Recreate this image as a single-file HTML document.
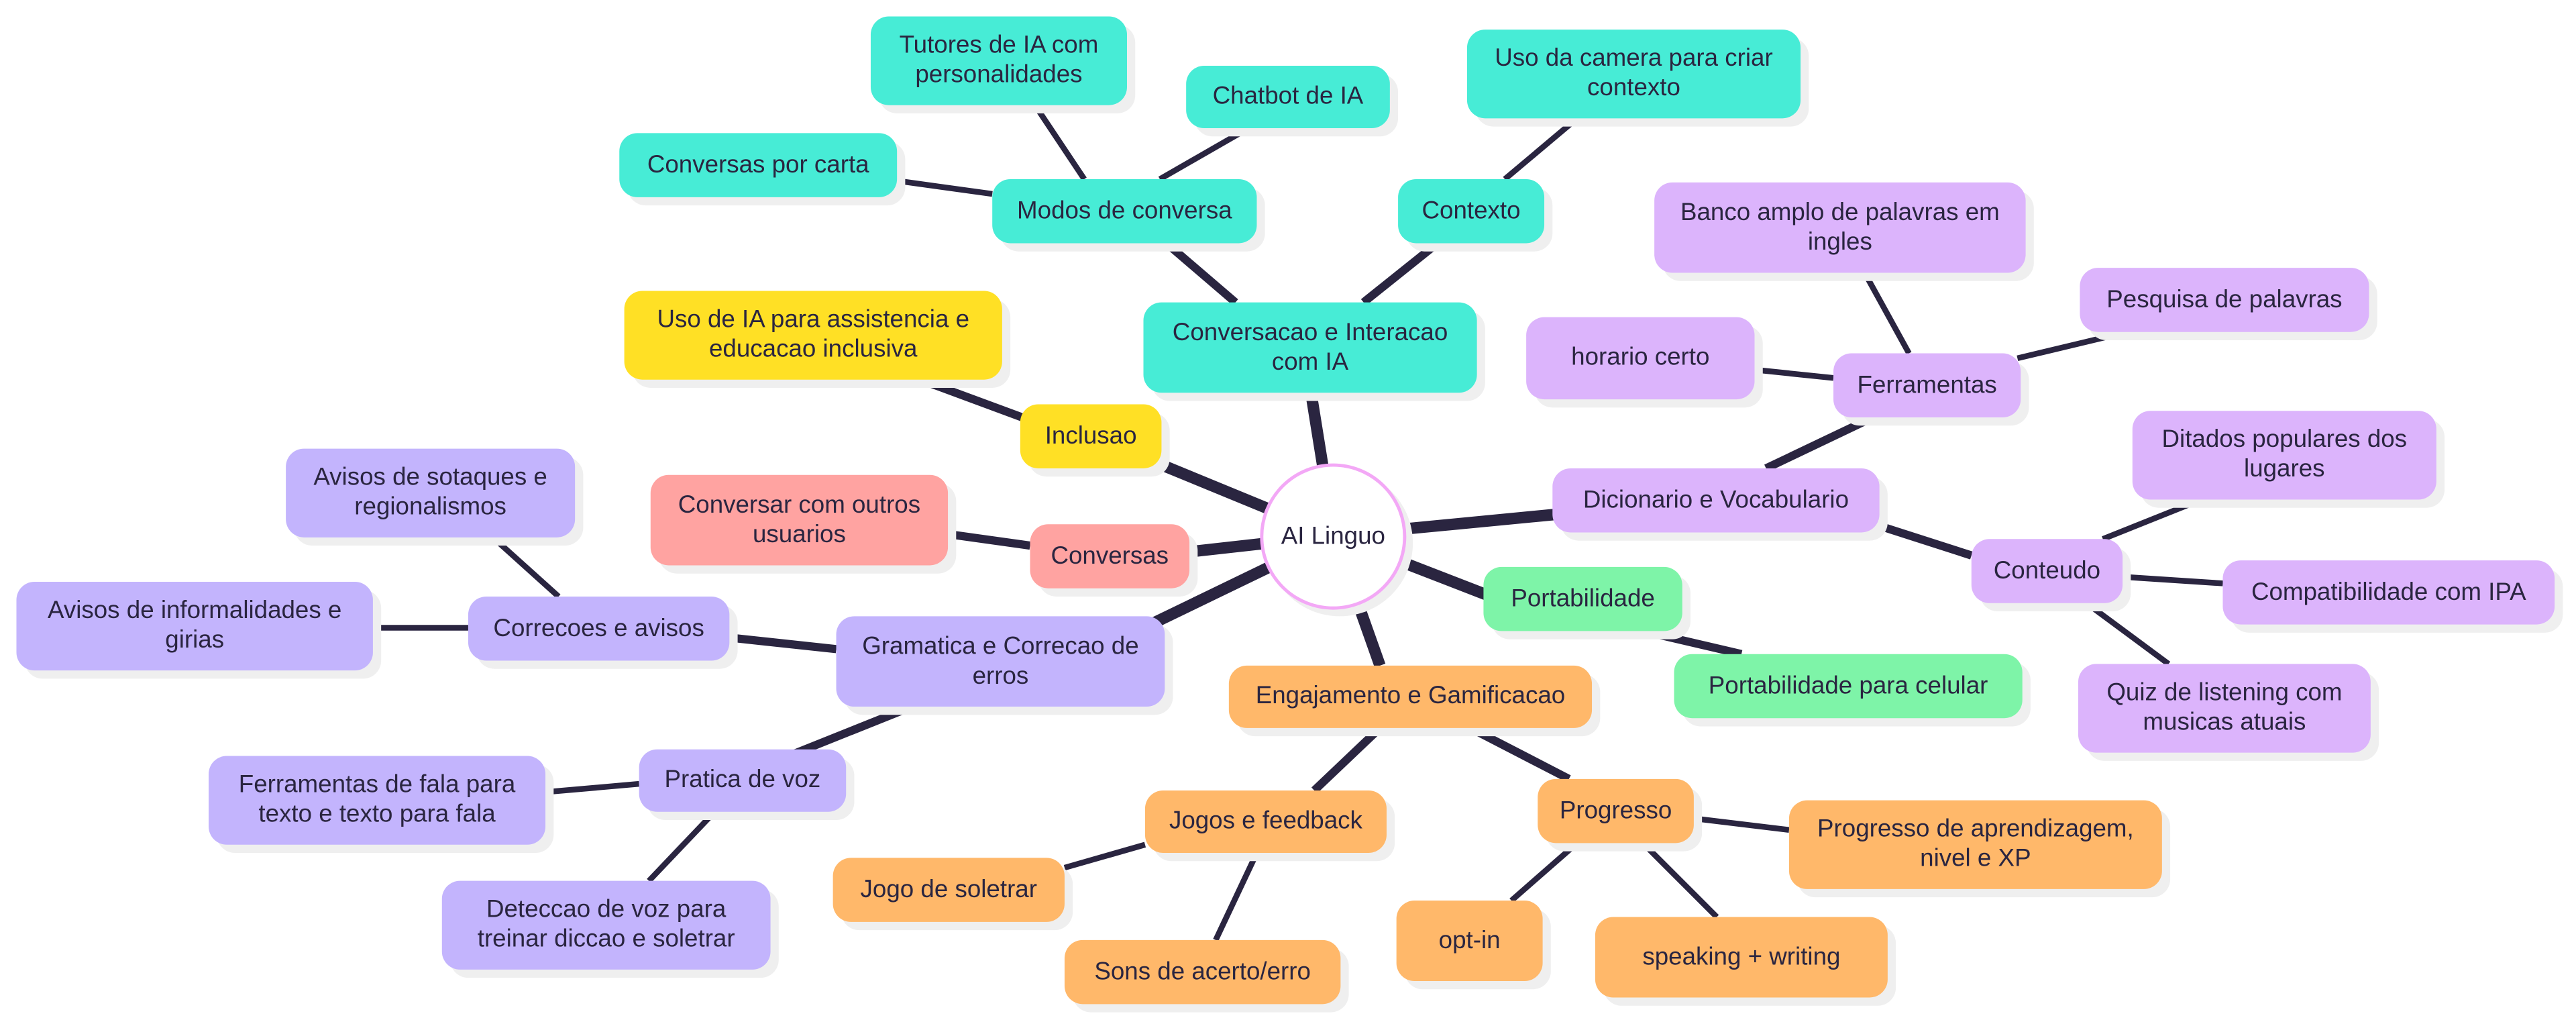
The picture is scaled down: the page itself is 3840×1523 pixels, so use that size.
<!DOCTYPE html>
<html><head><meta charset="utf-8"><style>
html,body{margin:0;padding:0;background:#fff;}
body{width:3840px;height:1523px;overflow:hidden;position:relative;}
#c{position:absolute;left:0;top:0;width:1568px;height:622px;transform:scale(2.44898);transform-origin:0 0;}
.n{position:absolute;display:flex;align-items:center;justify-content:center;text-align:center;border-radius:11px;font-family:"Liberation Sans Narrow","Liberation Sans",sans-serif;font-size:15px;line-height:18px;color:#2a2540;white-space:nowrap;box-shadow:5px 5px 0 #efefef;box-sizing:border-box;}
.t{background:#47ecd6}.y{background:#ffe025}.p{background:#ffa3a1}.l{background:#dcb4fc}.g{background:#7ef4a8}.v{background:#c3b4fd}.o{background:#ffb86a}
svg{position:absolute;left:0;top:0}
</style></head><body><div id="c">
<svg width="1568" height="622" stroke="#2a2540" stroke-linecap="butt">
<g stroke-width="7">
<line x1="812" y1="326" x2="798" y2="239"/>
<line x1="812" y1="326" x2="700" y2="280"/>
<line x1="812" y1="326" x2="722" y2="336"/>
<line x1="812" y1="326" x2="690" y2="385"/>
<line x1="812" y1="326" x2="840" y2="405"/>
<line x1="812" y1="326" x2="905" y2="362"/>
<line x1="812" y1="326" x2="947" y2="313"/>
</g>
<g stroke-width="5">
<line x1="710" y1="148" x2="752" y2="184"/>
<line x1="830" y1="184" x2="875" y2="148"/>
<line x1="625" y1="255" x2="560" y2="231"/>
<line x1="627" y1="332" x2="577" y2="325"/>
<line x1="1075" y1="285" x2="1140" y2="254"/>
<line x1="1144" y1="320" x2="1200" y2="338"/>
<line x1="1000" y1="384" x2="1060" y2="398"/>
<line x1="509" y1="395" x2="444" y2="388"/>
<line x1="555" y1="430" x2="480" y2="460"/>
<line x1="840" y1="443" x2="800" y2="481"/>
<line x1="895" y1="443" x2="955" y2="474"/>
</g>
<g stroke-width="3.5">
<line x1="660" y1="109" x2="630" y2="64"/>
<line x1="706" y1="109" x2="760" y2="78"/>
<line x1="604" y1="118" x2="546" y2="110"/>
<line x1="916" y1="109" x2="960" y2="72"/>
<line x1="1162" y1="215" x2="1135" y2="166"/>
<line x1="1228" y1="218" x2="1295" y2="202"/>
<line x1="1116" y1="230" x2="1068" y2="225"/>
<line x1="1280" y1="328" x2="1340" y2="304"/>
<line x1="1292" y1="351" x2="1353" y2="355"/>
<line x1="1270" y1="367" x2="1320" y2="404"/>
<line x1="340" y1="363" x2="300" y2="327"/>
<line x1="285" y1="382" x2="227" y2="382"/>
<line x1="389" y1="477" x2="332" y2="482"/>
<line x1="435" y1="494" x2="395" y2="536"/>
<line x1="697" y1="514" x2="648" y2="528"/>
<line x1="765" y1="519" x2="740" y2="572"/>
<line x1="1031" y1="498" x2="1089" y2="505"/>
<line x1="960" y1="513" x2="920" y2="548"/>
<line x1="1000" y1="513" x2="1045" y2="558"/>
</g>
</svg>
<div class="n t" style="left:530px;top:10px;width:156px;height:54px">Tutores de IA com<br>personalidades</div>
<div class="n t" style="left:722px;top:40px;width:124px;height:38px">Chatbot de IA</div>
<div class="n t" style="left:893px;top:18px;width:203px;height:54px">Uso da camera para criar<br>contexto</div>
<div class="n t" style="left:377px;top:81px;width:169px;height:39px">Conversas por carta</div>
<div class="n t" style="left:604px;top:109px;width:161px;height:39px">Modos de conversa</div>
<div class="n t" style="left:851px;top:109px;width:89px;height:39px">Contexto</div>
<div class="n t" style="left:696px;top:184px;width:203px;height:55px">Conversacao e Interacao<br>com IA</div>
<div class="n y" style="left:380px;top:177px;width:230px;height:54px">Uso de IA para assistencia e<br>educacao inclusiva</div>
<div class="n y" style="left:621px;top:246px;width:86px;height:39px">Inclusao</div>
<div class="n p" style="left:396px;top:289px;width:181px;height:55px">Conversar com outros<br>usuarios</div>
<div class="n p" style="left:627px;top:319px;width:97px;height:39px">Conversas</div>
<div class="n" style="left:767px;top:282px;width:89px;height:89px;border-radius:50%;background:#fff;border:2px solid #f3a8f6;box-shadow:4px 4px 0 #efefef">AI Linguo</div>
<div class="n l" style="left:1007px;top:111px;width:226px;height:55px">Banco amplo de palavras em<br>ingles</div>
<div class="n l" style="left:1266px;top:163px;width:176px;height:39px">Pesquisa de palavras</div>
<div class="n l" style="left:929px;top:193px;width:139px;height:50px">horario certo</div>
<div class="n l" style="left:1116px;top:215px;width:114px;height:39px">Ferramentas</div>
<div class="n l" style="left:945px;top:285px;width:199px;height:39px">Dicionario e Vocabulario</div>
<div class="n l" style="left:1298px;top:250px;width:185px;height:54px">Ditados populares dos<br>lugares</div>
<div class="n l" style="left:1200px;top:328px;width:92px;height:39px">Conteudo</div>
<div class="n l" style="left:1353px;top:341px;width:202px;height:39px">Compatibilidade com IPA</div>
<div class="n l" style="left:1265px;top:404px;width:178px;height:54px">Quiz de listening com<br>musicas atuais</div>
<div class="n g" style="left:903px;top:345px;width:121px;height:39px">Portabilidade</div>
<div class="n g" style="left:1019px;top:398px;width:212px;height:39px">Portabilidade para celular</div>
<div class="n v" style="left:174px;top:273px;width:176px;height:54px">Avisos de sotaques e<br>regionalismos</div>
<div class="n v" style="left:10px;top:354px;width:217px;height:54px">Avisos de informalidades e<br>girias</div>
<div class="n v" style="left:285px;top:363px;width:159px;height:39px">Correcoes e avisos</div>
<div class="n v" style="left:509px;top:375px;width:200px;height:55px">Gramatica e Correcao de<br>erros</div>
<div class="n v" style="left:127px;top:460px;width:205px;height:54px">Ferramentas de fala para<br>texto e texto para fala</div>
<div class="n v" style="left:389px;top:456px;width:126px;height:38px">Pratica de voz</div>
<div class="n v" style="left:269px;top:536px;width:200px;height:54px">Deteccao de voz para<br>treinar diccao e soletrar</div>
<div class="n o" style="left:748px;top:405px;width:221px;height:38px">Engajamento e Gamificacao</div>
<div class="n o" style="left:697px;top:481px;width:147px;height:38px">Jogos e feedback</div>
<div class="n o" style="left:936px;top:474px;width:95px;height:39px">Progresso</div>
<div class="n o" style="left:1089px;top:487px;width:227px;height:54px">Progresso de aprendizagem,<br>nivel e XP</div>
<div class="n o" style="left:507px;top:522px;width:141px;height:39px">Jogo de soletrar</div>
<div class="n o" style="left:648px;top:572px;width:168px;height:39px">Sons de acerto/erro</div>
<div class="n o" style="left:850px;top:548px;width:89px;height:49px">opt-in</div>
<div class="n o" style="left:971px;top:558px;width:178px;height:49px">speaking + writing</div>
</div></body></html>
